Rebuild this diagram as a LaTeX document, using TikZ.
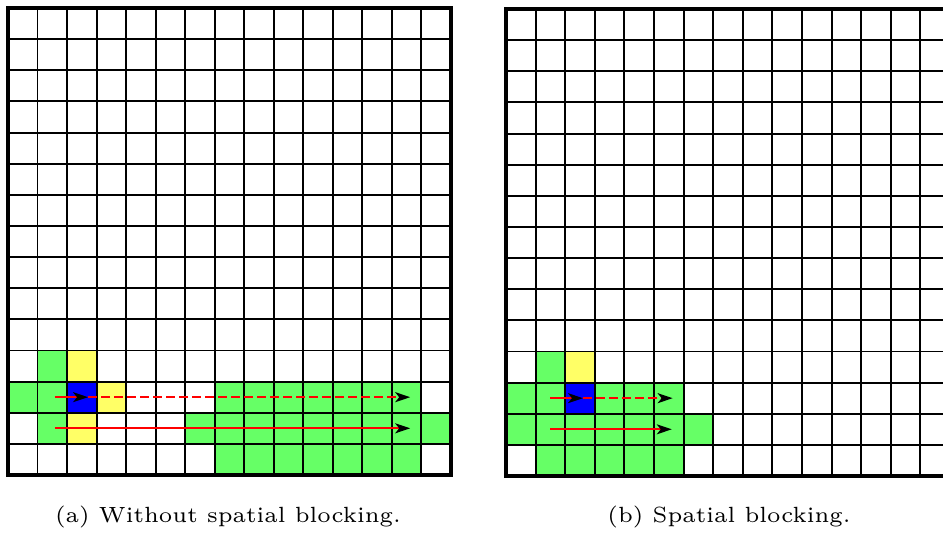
\documentclass[tikz,border=0pt]{standalone}
\usepackage{graphicx}
\usetikzlibrary{arrows.meta}

\definecolor{cellgreen}{RGB}{102,255,102}
\definecolor{cellyellow}{RGB}{255,255,102}
\definecolor{cellblue}{RGB}{0,0,255}
\definecolor{flowred}{RGB}{255,0,0}

\tikzset{
  gridline/.style={line width=1.9pt, black},
  frameline/.style={line width=3.2pt, black},
  flow/.style={line width=1.8pt, flowred,
    -{Stealth[length=15pt, width=10pt, inset=4pt, color=black, fill=black]}},
  flowdash/.style={flow, dash pattern=on 9pt off 4pt},
  caption/.style={font=\fontsize{6}{7}\selectfont, inner sep=0pt, anchor=base},
}

% caption text: small optical size, enlarged
\newcommand\captext[1]{\scalebox{3.667}{#1}}

% fill a list of cells c/r (column from left, row from bottom)
\newcommand\paintcells[2]{%
  \foreach \c/\r in {#2} \fill[#1] (\c,\r) rectangle ++(1,1);%
}
% 15 x 15 lattice of unit cells with a heavy frame
\newcommand\lattice{%
  \foreach \k in {1,...,14} {
    \draw[gridline] (\k,0) -- (\k,15);
    \draw[gridline] (0,\k) -- (15,\k);
  }
  \draw[frameline] (0,0) rectangle (15,15);%
}

\begin{document}
\begin{tikzpicture}[x=1pt, y=-1pt]
  \useasboundingbox (0,0) rectangle (943,533);

  % ---- left: sweep without spatial blocking ----
  \begin{scope}[shift={(8,475)}, x=29.53pt, y=31.13pt]
    \paintcells{cellgreen}{1/3, 0/2, 1/2, 7/2, 8/2, 9/2, 10/2, 11/2, 12/2, 13/2,
      1/1, 6/1, 7/1, 8/1, 9/1, 10/1, 11/1, 12/1, 13/1, 14/1,
      7/0, 8/0, 9/0, 10/0, 11/0, 12/0, 13/0}
    \paintcells{cellyellow}{2/3, 3/2, 2/1}
    \paintcells{cellblue}{2/2}
    \lattice

    \coordinate (a1s) at (1.59,2.5);
    \coordinate (a1m) at (2.71,2.5);
    \coordinate (a1e) at (13.62,2.5);
    \coordinate (a2s) at (1.59,1.5);
    \coordinate (a2e) at (13.62,1.5);
    \draw[flow] (a1s) -- (a1m);
    \draw[flowdash] (a1m) -- (a1e);
    \draw[flow] (a2s) -- (a2e);
  \end{scope}

  % ---- right: sweep with spatial blocking ----
  \begin{scope}[shift={(506,476)}, x=29.6pt, y=31.13pt]
    \clip (-1,-1) rectangle (14.77,16);
    \paintcells{cellgreen}{1/3, 0/2, 1/2, 3/2, 4/2, 5/2,
      0/1, 1/1, 2/1, 3/1, 4/1, 5/1, 6/1,
      1/0, 2/0, 3/0, 4/0, 5/0}
    \paintcells{cellyellow}{2/3}
    \paintcells{cellblue}{2/2}
    \lattice

    \coordinate (b1s) at (1.49,2.5);
    \coordinate (b1m) at (2.6,2.5);
    \coordinate (b1e) at (5.63,2.5);
    \coordinate (b2s) at (1.49,1.5);
    \coordinate (b2e) at (5.6,1.5);
    \draw[flow] (b1s) -- (b1m);
    \draw[flowdash] (b1m) -- (b1e);
    \draw[flow] (b2s) -- (b2e);
  \end{scope}

  \node[caption] (capa) at (228,522) {\captext{(a) Without spatial blocking.}};
  \node[caption] (capb) at (729,522) {\captext{(b) Spatial blocking.}};
\end{tikzpicture}
\end{document}
